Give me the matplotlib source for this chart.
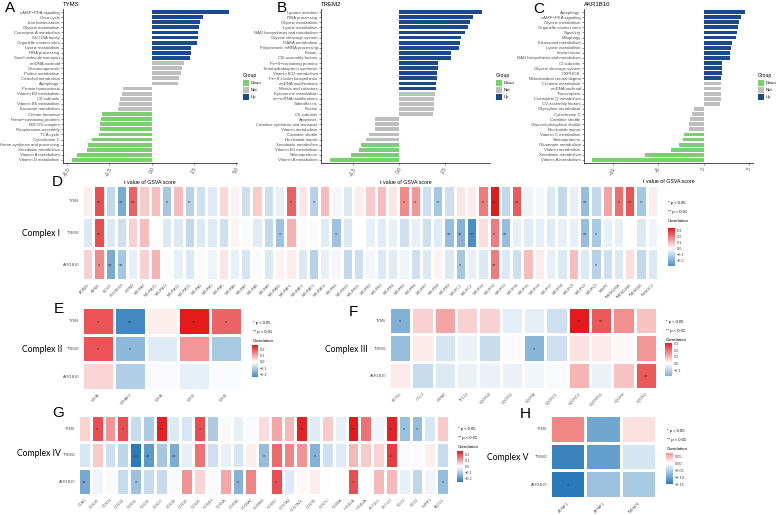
import numpy as np
import matplotlib.pyplot as plt
from matplotlib.colors import LinearSegmentedColormap, Normalize
from matplotlib.patches import Rectangle

plt.rcParams['font.family'] = ['Liberation Sans', 'DejaVu Sans']

# ---------------- GSVA bar panels (A, B, C) ----------------
a_terms = ["cAMP−PKA signaling", "Urea cycle", "Iron homeostasis", "Glycine metabolism",
           "Coenzyme A metabolism", "SLC25A family", "Organelle contact sites", "Lysine metabolism",
           "RNA processing", "Small molecule transport", "mtDNA nucleoid", "Gluconeogenesis",
           "Proline metabolism", "Catechol metabolism", "Autophagy", "Protein homeostasis",
           "Vitamin B2 metabolism", "CII subunits", "Vitamin B6 metabolism", "Itaconate metabolism",
           "Cristae formation", "Heme−containing proteins", "MICOS complex", "Respirasome assembly",
           "TCA cycle", "Cytochrome C", "Heme synthesis and processing", "Xenobiotic metabolism",
           "Vitamin A metabolism", "Vitamin D metabolism"]
a_tval = [4.59, 3.03, 2.87, 2.82, 2.76, 2.74, 2.66, 2.32, 2.30, 2.26,
          1.89, 1.79, 1.71, 1.59, 1.56, -1.71, -1.77, -1.85, -1.91, -1.97,
          -2.93, -3.01, -3.07, -3.07, -3.11, -3.52, -3.78, -3.84, -4.43, -4.71]
a_group = ["Up"] * 10 + ["Not"] * 10 + ["Down"] * 10

b_terms = ["Lipoate insertion", "RNA processing", "Glycine metabolism", "Lysine metabolism",
           "NAD biosynthesis and metabolism", "Glycine cleavage system", "GABA metabolism",
           "Polycistronic mRNA processing", "Fusion", "CIII assembly factors",
           "Fe−S−containing proteins", "Tetrahydrobiopterin synthesis", "Vitamin B12 metabolism",
           "Fe−S cluster biosynthesis", "mtDNA modifications", "Metals and cofactors",
           "Kynurenine metabolism", "mt−mRNA modifications", "Sideroflexins", "Fission",
           "CII subunits", "Apoptosis", "Carnitine synthesis and transport", "Vitamin metabolism",
           "Carnitine shuttle", "Nucleotide import", "Xenobiotic metabolism",
           "Vitamin B1 metabolism", "Selenoproteins", "Vitamin A metabolism"]
b_tval = [4.56, 4.05, 3.89, 3.76, 3.63, 3.41, 3.36, 3.30, 2.88, 2.88,
          2.15, 2.15, 2.10, 2.06, 2.04, 2.01, 1.95, 1.93, 1.91, 1.90,
          1.86, -1.31, -1.33, -1.33, -1.64, -1.79, -2.08, -2.19, -2.61, -3.80]
b_group = ["Up"] * 16 + ["Not"] * 10 + ["Down"] * 4

c_terms = ["Autophagy", "cAMP−PKA signaling", "Glycine metabolism", "Organelle contact sites",
           "Signaling", "Mitophagy", "Eicosanoid metabolism", "Lysine metabolism", "Import motor",
           "NAD biosynthesis and metabolism", "CI subunits", "Glycine cleavage system", "OXPHOS",
           "Mitochondrial central dogma", "Creatine metabolism", "mtDNA nucleoid", "Transcription",
           "Coenzyme Q metabolism", "CV assembly factors", "Glyoxylate metabolism", "Cytochrome C",
           "Carnitine shuttle", "Glycerol phosphate shuttle", "Nucleotide import",
           "Vitamin C metabolism", "Selenoproteins", "Glutamate metabolism", "Vitamin metabolism",
           "Xenobiotic metabolism", "Vitamin A metabolism"]
c_tval = [4.60, 4.12, 3.90, 3.79, 3.71, 3.57, 3.12, 3.05, 2.87, 2.87,
          2.02, 1.99, 1.99, 1.95, 1.91, 1.91, 1.87, 1.87, 1.84, -1.07,
          -1.29, -1.51, -1.58, -1.65, -2.17, -2.32, -2.76, -3.60, -6.51, -12.31]
c_group = ["Up"] * 14 + ["Not"] * 10 + ["Down"] * 6

group_col = {"Down": "#7CCF6E", "Not": "#BEBEBE", "Up": "#1B4A8C"}

# ---------------- correlation heatmaps (D-H) ----------------
rows = ["TYMS", "TREM2", "AKR1B10"]

d_genes = ["ACAD9", "AIFM1", "ECSIT", "FOXRED1", "LYRM2", "NDUFA1", "NDUFA10", "NDUFA11",
           "NDUFA12", "NDUFA13", "NDUFA2", "NDUFA3", "NDUFA5", "NDUFA6", "NDUFA7", "NDUFA8",
           "NDUFA9", "NDUFAB1", "NDUFAF1", "NDUFAF2", "NDUFAF3", "NDUFAF4", "NDUFB1", "NDUFB10",
           "NDUFB11", "NDUFB2", "NDUFB3", "NDUFB4", "NDUFB5", "NDUFB6", "NDUFB7", "NDUFB8",
           "NDUFB9", "NDUFC1", "NDUFC2", "NDUFS1", "NDUFS2", "NDUFS3", "NDUFS4", "NDUFS5",
           "NDUFS6", "NDUFS7", "NDUFS8", "NDUFV1", "NDUFV2", "NDUFV3", "NUBPL", "TMEM126A",
           "TMEM126B", "TMEM186", "TIMMDC1"]
d_tyms = [0.03, 0.27, -0.10, -0.22, 0.24, 0.08, 0.10, -0.15, 0.10, -0.12, -0.08, -0.05, 0.06,
          0.02, -0.08, 0.08, -0.08, -0.04, 0.24, 0.04, -0.12, 0.10, -0.02, -0.06, 0.03, 0.08,
          0.10, 0.04, 0.18, 0.16, -0.08, -0.15, -0.08, 0.04, 0.03, 0.20, 0.35, -0.10, 0.25,
          -0.03, -0.02, -0.06, -0.10, -0.04, -0.17, -0.10, 0.14, 0.22, 0.26, -0.15, 0.03]
d_trem2 = [-0.06, 0.27, -0.06, -0.08, 0.07, 0.10, 0.00, -0.06, -0.06, -0.10, -0.06, -0.05, -0.08,
           0.02, -0.01, -0.05, -0.10, -0.16, 0.12, 0.01, -0.01, -0.05, -0.16, -0.06, 0.00, -0.04,
           -0.05, -0.04, -0.08, -0.04, -0.08, -0.05, -0.17, -0.20, -0.30, 0.05, 0.20, -0.17, -0.04,
           -0.05, -0.04, -0.05, -0.04, -0.04, -0.17, -0.14, -0.04, -0.04, 0.00, -0.06, -0.03]
d_akr = [0.07, 0.18, -0.22, -0.15, -0.04, 0.07, 0.12, -0.01, -0.04, -0.06, -0.01, -0.03, 0.04,
         -0.04, -0.07, -0.01, -0.06, 0.02, 0.03, -0.06, -0.12, -0.04, -0.02, -0.10, -0.08, -0.02,
         -0.06, -0.05, -0.03, -0.08, -0.06, 0.02, -0.06, -0.15, -0.04, -0.06, 0.20, -0.06, -0.08,
         0.10, 0.03, -0.04, -0.06, 0.10, -0.06, -0.12, -0.08, -0.06, 0.05, -0.10, -0.06]
# 1 = p < 0.05, 2 = p < 0.01 (column numbers, 1-based)
d_sig = [{2: 2, 4: 2, 5: 2, 8: 1, 10: 1, 19: 1, 21: 1, 29: 1, 30: 1, 32: 1, 36: 1, 37: 2,
          39: 2, 45: 2, 48: 1, 49: 2, 50: 1},
         {2: 2, 18: 1, 23: 1, 33: 2, 34: 2, 35: 2, 37: 1, 38: 2, 45: 2, 46: 1},
         {2: 1, 3: 2, 4: 2, 34: 1, 37: 2, 46: 1}]

e_genes = ["SDHA", "SDHAF2", "SDHB", "SDHC", "SDHD"]
e_tyms = [0.20, -0.236, 0.02, 0.267, 0.18]
e_trem2 = [0.20, -0.14, -0.04, 0.12, -0.11]
e_akr = [0.05, -0.10, -0.01, -0.03, -0.01]
e_sig = [{1: 1, 2: 2, 4: 2, 5: 1}, {1: 1, 2: 1}, {}]

f_genes = ["BCS1L", "CYC1", "LYRM7", "TTC19", "UQCR10", "UQCR11", "UQCRB", "UQCRC1",
           "UQCRC2", "UQCRFS1", "UQCRH", "UQCRQ"]
f_tyms = [-0.18, 0.06, 0.12, 0.06, 0.06, -0.04, -0.04, -0.07, 0.305, 0.22, 0.15, 0.08]
f_trem2 = [-0.15, 0.03, -0.06, -0.03, -0.08, -0.01, -0.17, -0.07, 0.04, 0.03, 0.01, 0.14]
f_akr = [0.03, -0.08, -0.05, -0.03, -0.03, -0.03, -0.02, -0.01, 0.10, -0.03, 0.08, 0.22]
f_sig = [{1: 1, 9: 2, 10: 2}, {7: 1}, {12: 2}]

g_genes = ["COA1", "COX10", "COX11", "COX14", "COX15", "COX16", "COX17", "COX18", "COX19",
           "COX20", "COX4I1", "COX5A", "COX5B", "COX6A1", "COX6B1", "COX6C", "COX7A2",
           "COX7A2L", "COX7B", "COX7C", "COX8A", "HIGD1A", "HIGD2A", "PET100", "PET117",
           "SCO1", "SCO2", "SURF1", "TACO1"]
g_tyms = [0.05, 0.20, 0.12, 0.20, -0.07, -0.10, 0.25, -0.04, -0.05, 0.20, -0.10, -0.01, -0.03,
          -0.01, 0.04, 0.10, 0.08, 0.25, -0.04, 0.06, -0.03, 0.26, 0.16, -0.02, 0.25, -0.12,
          -0.13, -0.05, 0.06]
g_trem2 = [-0.05, 0.06, -0.06, -0.08, -0.26, -0.20, -0.11, -0.16, -0.03, 0.16, -0.06, -0.03,
           -0.05, 0.02, -0.13, 0.17, 0.14, 0.12, -0.15, -0.06, -0.04, 0.08, 0.06, 0.05, 0.22,
           -0.01, -0.01, 0.02, -0.07]
g_akr = [-0.17, -0.02, -0.01, -0.07, -0.12, -0.07, -0.07, -0.01, 0.12, 0.05, -0.01, 0.10,
         -0.15, 0.14, 0.00, 0.20, -0.04, 0.01, 0.02, 0.00, 0.00, 0.20, 0.00, 0.08, 0.08, -0.03,
         -0.08, -0.02, -0.13]
g_sig = [{2: 1, 4: 1, 7: 2, 10: 1, 18: 2, 22: 2, 25: 2, 26: 1, 27: 1},
         {5: 2, 6: 2, 8: 2, 15: 1, 19: 1, 25: 1},
         {1: 2, 5: 1, 13: 1, 16: 1, 22: 1, 29: 1}]

h_genes = ["ATPAF1", "ATPAF2", "TMEM70"]
h_tyms = [0.079, -0.10, 0.02]
h_trem2 = [-0.14, -0.11, -0.03]
h_akr = [-0.15, -0.07, -0.06]
h_sig = [{}, {}, {1: 1}]

W, H = 777, 515
fig = plt.figure(figsize=(W / 100, H / 100), dpi=100)


def box(x0, y0, x1, y1):
    # pixel box (top-left origin) -> figure rect
    return [x0 / W, 1 - y1 / H, (x1 - x0) / W, (y1 - y0) / H]


def ftext(x, y, s, **kw):
    fig.text(x / W, 1 - y / H, s, **kw)


def bar_panel(rect, title, terms, tvals, groups, xlim, xticks, xlabels, leg):
    ax = fig.add_axes(box(*rect))
    n = len(terms)
    y = np.arange(n)[::-1]
    ax.barh(y, tvals, height=0.75, color=[group_col[g] for g in groups])
    ax.set_ylim(-0.6, n - 0.4)
    ax.set_xlim(*xlim)
    ax.set_yticks(y)
    ax.set_yticklabels(terms, fontsize=3.1, color="#4d4d4d")
    ax.set_xticks(xticks)
    ax.set_xticklabels(xlabels, fontsize=3.5, color="#4d4d4d", rotation=60, ha="center", va="top")
    ax.tick_params(length=1.5, width=0.4, pad=1, color="#333333")
    for s in ["top", "right"]:
        ax.spines[s].set_visible(False)
    for s in ["left", "bottom"]:
        ax.spines[s].set_linewidth(0.6)
        ax.spines[s].set_color("#333333")
    ax.set_xlabel("t value of GSVA score", fontsize=3.8, labelpad=2)
    ax.set_title(title, loc="left", fontsize=4.3, pad=2)
    lx, ly = leg
    ftext(lx, ly, "Group", fontsize=3.6, va="center")
    for i, g in enumerate(["Down", "Not", "Up"]):
        fig.add_artist(Rectangle((lx / W, 1 - (ly + 10 + 7 * i) / H), 5.5 / W, 5.5 / H,
                                 transform=fig.transFigure, color=group_col[g], lw=0))
        ftext(lx + 8, ly + 7.2 + 7 * i, g, fontsize=3.1, va="center")


bar_panel((63, 9, 237, 163), "TYMS", a_terms, a_tval, a_group, (-5.24, 5.04),
          [-5, -2.5, 0, 2.5, 5], ["−5.0", "−2.5", "0.0", "2.5", "5.0"], (243, 76))
bar_panel((321, 9, 490, 163), "TREM2", b_terms, b_tval, b_group, (-4.27, 4.99),
          [-2.5, 0, 2.5], ["−2.5", "0.0", "2.5"], (496, 76))
bar_panel((584, 9, 753, 163), "AKR1B10", c_terms, c_tval, c_group, (-13.2, 5.45),
          [-10, -5, 0, 5], ["−10", "−5", "0", "5"], (758, 76))

cmap = LinearSegmentedColormap.from_list("cor", ["#2B7BBA", "#FFFFFF", "#E41A1C"])


def heat_panel(rect, genes, vals, sig, cb_rect, cb_ticks, cb_labels, leg):
    v = np.array(vals)
    m = np.abs(v).max()
    norm = Normalize(-m, m)
    ax = fig.add_axes(box(*rect))
    ax.pcolormesh(v, cmap=cmap, norm=norm, edgecolors="white", linewidth=0.9)
    ax.set_ylim(v.shape[0], 0)
    ax.set_xlim(0, v.shape[1])
    ax.set_xticks(np.arange(v.shape[1]) + 0.5)
    ax.set_xticklabels(genes, rotation=45, ha="right", rotation_mode="anchor",
                       fontsize=2.7, color="#555555")
    ax.set_yticks(np.arange(v.shape[0]) + 0.5)
    ax.set_yticklabels(rows, fontsize=2.7, color="#555555")
    ax.tick_params(length=0, pad=2)
    for s in ax.spines.values():
        s.set_visible(False)
    for i, d in enumerate(sig):
        for j, k in d.items():
            ax.text(j - 0.5, i + 0.55, "*" * k, ha="center", va="center",
                    fontsize=4, color="#333333")
    lx, ly = leg
    ftext(lx, ly, "* p < 0.05", fontsize=3, va="center")
    ftext(lx, ly + 9, "** p < 0.01", fontsize=3, va="center")
    ftext(lx, ly + 18, "Correlation", fontsize=3.2, va="center")
    cax = fig.add_axes(box(*cb_rect))
    lo, hi = v.min(), v.max()
    grad = np.linspace(lo, hi, 256)[:, None]
    cax.imshow(grad, aspect="auto", cmap=cmap, norm=norm, origin="lower",
               extent=[0, 1, lo, hi])
    cax.set_xticks([])
    cax.yaxis.tick_right()
    cax.set_yticks(cb_ticks)
    cax.set_yticklabels(cb_labels, fontsize=2.8, color="#444444")
    cax.tick_params(length=0, pad=1.5)
    for s in cax.spines.values():
        s.set_visible(False)


heat_panel((82, 185, 658, 280), d_genes, [d_tyms, d_trem2, d_akr], d_sig,
           (668, 228, 675, 266), [0.3, 0.2, 0.1, 0.0, -0.1, -0.2],
           ["0.3", "0.2", "0.1", "0.0", "−0.1", "−0.2"], (668, 203))
heat_panel((82, 307, 242, 390), e_genes, [e_tyms, e_trem2, e_akr], e_sig,
           (252, 345, 258, 377), [0.2, 0.1, 0.0, -0.1, -0.2],
           ["0.2", "0.1", "0.0", "−0.1", "−0.2"], (253, 323))
heat_panel((389, 307, 657, 389), f_genes, [f_tyms, f_trem2, f_akr], f_sig,
           (665, 343, 672, 376), [0.3, 0.2, 0.1, 0.0, -0.1],
           ["0.3", "0.2", "0.1", "0.0", "−0.1"], (666, 322))
heat_panel((78, 415, 449, 495), g_genes, [g_tyms, g_trem2, g_akr], g_sig,
           (457, 451, 463, 482), [0.2, 0.1, 0.0, -0.1, -0.2],
           ["0.2", "0.1", "0.0", "−0.1", "−0.2"], (458, 429))
heat_panel((550, 415, 656, 498), h_genes, [h_tyms, h_trem2, h_akr], h_sig,
           (666, 453, 673, 484), [0.05, 0.0, -0.05, -0.10, -0.15],
           ["0.05", "0.00", "−0.05", "−0.10", "−0.15"], (667, 431))

# complex names
for x, y, s in [(22, 233, "Complex I"), (22, 349, "Complex II"), (325, 349, "Complex III"),
                (17, 453, "Complex IV"), (487, 457, "Complex V")]:
    ftext(x, y, s, fontsize=6.2, va="center", family=["Lato", "DejaVu Sans"])

# panel letters
for x, y, s in [(5, 8, "A"), (277, 8, "B"), (533, 9, "C"), (52, 182, "D"), (54, 309, "E"),
                (349, 312, "F"), (52, 413, "G"), (520, 414, "H")]:
    ftext(x, y, s, fontsize=11, va="center")

fig.savefig("out.png", dpi=100)
